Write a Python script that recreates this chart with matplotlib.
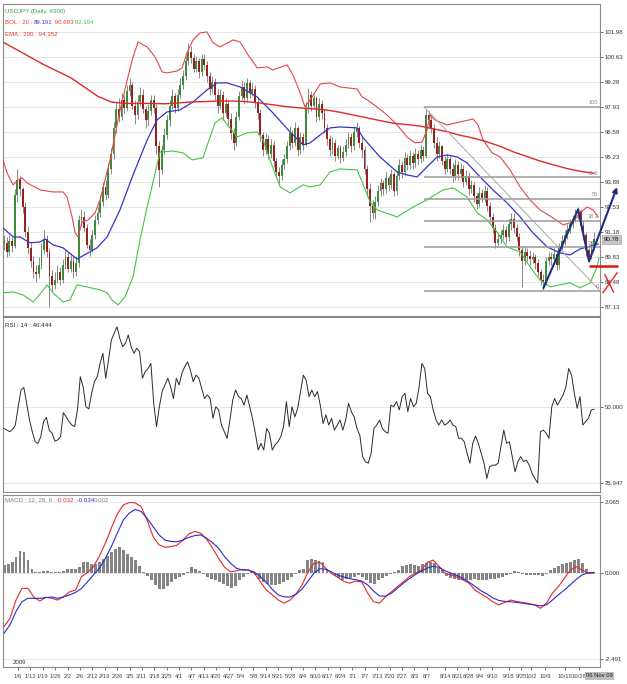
import numpy as np
import matplotlib.pyplot as plt
from matplotlib.transforms import blended_transform_factory

plt.rcParams['font.family'] = ['Liberation Sans', 'DejaVu Sans']

# ---------------- data (USDJPY daily) ----------------
close = [
    90.6, 90.1, 90.7, 90.4, 93.2, 94.0, 93.5, 92.5, 91.2, 90.3,
    89.6, 89.0, 88.9, 89.4, 90.2, 90.8, 90.1, 88.8, 88.3, 88.6,
    89.0, 88.6, 89.4, 89.8, 89.2, 89.6, 89.0, 89.5, 91.8, 92.0,
    91.4, 90.5, 90.2, 91.0, 91.8, 92.2, 92.8, 93.6, 93.2, 94.6,
    95.4, 96.8, 97.8, 97.4, 98.3, 97.9, 98.8, 99.1, 98.0, 97.5,
    98.2, 98.6, 97.8, 97.2, 97.7, 98.3, 97.9, 95.8, 94.5, 95.6,
    96.4, 97.2, 98.0, 98.5, 97.9, 98.6, 99.1, 99.6, 100.4, 100.9,
    100.6, 100.0, 100.4, 99.8, 100.5, 100.2, 99.6, 98.9, 99.3, 98.6,
    98.0, 98.6, 97.6, 98.1, 97.3, 96.5, 96.0, 97.4, 98.5, 99.0,
    98.4, 99.2, 98.7, 98.9, 98.2, 97.6, 96.4, 95.6, 96.2, 95.4,
    95.9, 95.0, 94.4, 94.2, 94.8, 95.1, 95.8, 96.5, 96.0, 96.8,
    95.6, 96.3, 95.9, 97.9, 98.6, 98.0, 98.4, 97.4, 98.1, 97.6,
    96.8, 96.2, 95.6, 96.0, 95.3, 95.7, 95.2, 95.5, 95.9, 96.3,
    95.8, 96.6, 96.8, 96.0, 95.6, 94.6, 93.5, 92.6, 92.2, 92.8,
    93.4, 93.8, 93.5, 94.1, 93.7, 94.3, 93.4, 94.2, 94.8, 94.4,
    95.2, 94.8, 95.3, 94.9, 95.4, 95.1, 95.6, 95.3, 97.5, 97.2,
    96.8, 96.0, 95.4, 95.8, 95.0, 94.6, 95.1, 94.6, 94.2, 94.8,
    94.3, 94.6, 93.9, 94.2, 93.5, 93.7, 93.1, 92.7, 93.3, 93.0,
    93.4, 92.6, 92.0, 91.4, 90.6, 90.8, 91.0, 91.3, 90.9, 91.6,
    91.9, 91.4, 90.9, 90.2, 89.6, 90.1, 89.9, 89.7, 89.8, 89.5,
    89.0, 88.6, 88.5, 89.6, 89.8, 89.7, 90.0, 89.4, 90.4, 90.7,
    91.0, 91.3, 91.6, 91.9, 92.2, 92.3, 91.5, 91.0, 90.2, 89.8,
    90.4, 90.78,
]
high = [
    91.0, 90.9, 91.0, 90.9, 93.5, 94.6, 94.2, 93.6, 92.8, 91.5,
    90.6, 89.9, 89.4, 89.8, 90.6, 91.3, 91.0, 90.3, 89.1, 89.0,
    89.4, 89.3, 89.7, 90.2, 90.1, 90.0, 89.9, 89.9, 92.1, 92.4,
    92.3, 91.6, 90.8, 91.3, 92.1, 92.5, 93.2, 93.9, 94.0, 94.9,
    95.7, 97.1, 98.2, 98.4, 98.7, 98.6, 99.1, 99.5, 99.3, 98.3,
    98.6, 99.0, 98.9, 98.0, 98.1, 98.6, 98.6, 98.1, 96.1, 95.9,
    96.8, 97.5, 98.3, 98.9, 98.7, 98.9, 99.5, 99.9, 100.7, 101.4,
    101.2, 100.8, 100.7, 100.6, 100.8, 100.8, 100.4, 99.8, 99.6, 99.5,
    98.9, 98.9, 98.8, 98.4, 98.3, 97.6, 96.8, 97.7, 98.8, 99.4,
    99.3, 99.5, 99.4, 99.2, 99.1, 98.4, 97.8, 96.6, 96.5, 96.4,
    96.2, 96.1, 95.2, 94.7, 95.1, 95.4, 96.1, 96.9, 96.7, 97.1,
    96.9, 96.6, 96.5, 98.2, 98.96, 98.8, 98.6, 98.5, 98.4, 98.3,
    97.8, 97.0, 96.4, 96.3, 96.2, 95.9, 95.9, 95.8, 96.2, 96.6,
    96.5, 96.9, 97.1, 96.9, 96.3, 95.8, 94.8, 93.8, 92.9, 93.1,
    93.7, 94.1, 94.0, 94.4, 94.2, 94.6, 94.4, 94.5, 95.1, 95.0,
    95.5, 95.4, 95.6, 95.5, 95.7, 95.6, 95.9, 95.8, 97.8, 97.7,
    97.5, 97.0, 96.3, 96.1, 95.9, 95.3, 95.4, 95.3, 94.9, 95.1,
    95.0, 94.9, 94.8, 94.5, 94.4, 94.0, 93.9, 93.3, 93.6, 93.5,
    93.7, 93.6, 92.8, 92.2, 91.6, 91.2, 91.3, 91.6, 91.5, 91.9,
    92.2, 92.2, 91.6, 91.1, 90.4, 90.4, 90.3, 90.2, 90.1, 90.0,
    89.7, 89.2, 88.9, 89.8, 90.1, 90.1, 90.3, 90.2, 90.6, 91.0,
    91.3, 91.6, 91.9, 92.1, 92.4, 92.5, 92.4, 91.8, 91.2, 90.4,
    90.7, 91.2,
]
low = [
    90.2, 89.8, 89.9, 90.1, 90.3, 92.8, 93.1, 92.2, 90.9, 90.0,
    89.3, 88.7, 88.5, 88.7, 89.2, 90.0, 89.8, 87.1, 88.0, 88.1,
    88.4, 88.3, 88.4, 89.2, 89.0, 89.0, 88.7, 88.8, 89.3, 91.5,
    91.2, 90.3, 89.9, 90.1, 90.8, 91.6, 92.0, 92.6, 92.9, 93.0,
    94.3, 95.1, 96.5, 97.1, 97.2, 97.6, 97.7, 98.5, 97.8, 97.0,
    97.3, 98.0, 97.6, 96.8, 96.9, 97.5, 97.6, 95.4, 93.6, 94.3,
    95.4, 96.2, 96.9, 97.8, 97.6, 97.7, 98.4, 98.9, 99.4, 100.2,
    100.3, 99.8, 99.8, 99.5, 99.6, 99.9, 99.3, 98.6, 98.7, 98.3,
    97.6, 97.8, 97.2, 97.4, 96.9, 96.2, 95.6, 95.8, 97.2, 98.3,
    98.1, 98.2, 98.4, 98.5, 97.9, 97.3, 96.1, 95.3, 95.4, 95.1,
    95.2, 94.7, 94.1, 93.8, 94.0, 94.6, 94.9, 95.6, 95.7, 95.8,
    95.3, 95.4, 95.6, 95.8, 97.6, 97.7, 97.8, 97.1, 97.2, 97.3,
    96.5, 95.9, 95.3, 95.4, 95.0, 95.1, 94.9, 95.0, 95.3, 95.7,
    95.5, 95.6, 96.3, 95.7, 95.2, 94.3, 93.1, 91.7, 91.9, 91.9,
    92.6, 93.1, 93.2, 93.3, 93.4, 93.5, 93.1, 93.2, 94.0, 94.1,
    94.2, 94.5, 94.6, 94.6, 94.7, 94.8, 94.9, 95.0, 95.2, 96.8,
    96.5, 95.7, 95.0, 95.2, 94.8, 94.3, 94.4, 94.3, 93.9, 94.0,
    94.0, 94.1, 93.6, 93.7, 93.2, 93.3, 92.8, 92.4, 92.5, 92.8,
    92.8, 92.3, 91.7, 91.1, 90.3, 90.4, 90.6, 90.8, 90.6, 90.7,
    91.3, 91.1, 90.7, 89.9, 88.2, 89.4, 89.6, 89.4, 89.5, 89.2,
    88.8, 88.3, 88.0, 88.3, 89.4, 89.4, 89.5, 89.1, 89.2, 90.2,
    90.5, 90.8, 91.1, 91.4, 91.7, 91.9, 91.3, 90.8, 89.9, 89.6,
    89.7, 90.2,
]

# Bollinger(20) readings: bar number and value
upper_bars = [-0.75, 1.12, 3.37, 5.24, 6.74, 8.61, 13.48, 18.35, 22.1, 23.6,
              25.47, 26.6, 27.72, 29.2, 31.5, 34.1, 35.96, 39.7, 43.45, 46.4,
              48.3, 50.2, 53.6, 56.55, 59.2, 61.05, 64.8, 66.7, 68.5, 70.8,
              73.4, 76.0, 78.3, 80.9, 85.8, 88.4, 91.4, 94.8, 98.5, 100.7,
              106.0, 108.2, 110.9, 112.7, 115.4, 118.4, 122.1, 125.8, 132.2, 134.1,
              136.0, 139.7, 143.4, 147.2, 150.9, 153.9, 156.6, 158.4, 159.6, 161.4,
              165.9, 170.8, 175.7, 177.5, 179.4, 182.8, 185.8, 189.5, 193.3, 197.0,
              200.7, 205.6, 209.4, 213.1, 215.7, 218.4, 220.6, 222.5]
upper_vals = [95.23, 94.37, 93.72, 93.99, 94.1, 93.83, 93.45, 93.34, 93.34, 93.07,
              91.99, 91.13, 90.91, 91.72, 91.83, 92.21, 92.91, 95.07, 97.77, 99.55,
              100.63, 101.44, 101.17, 100.63, 99.82, 99.77, 99.87, 100.04, 100.85, 101.55,
              101.93, 101.98, 101.39, 101.17, 101.55, 101.44, 100.74, 100.04, 100.09, 99.93,
              100.2, 99.66, 98.69, 97.93, 98.47, 99.17, 99.23, 99.01, 98.9, 98.47,
              98.31, 97.93, 97.5, 96.96, 96.31, 95.99, 96.04, 96.69, 97.5, 97.23,
              96.96, 97.12, 97.28, 96.96, 96.15, 95.45, 95.23, 94.53, 93.61, 92.91,
              92.37, 91.94, 91.56, 91.72, 92.21, 92.53, 92.37, 91.99]
mid_bars = [-0.37, 3.37, 6.0, 9.74, 13.48, 15.36, 18.35, 22.1, 27.3, 31.5,
            34.8, 38.6, 43.4, 48.3, 53.6, 57.3, 61.0, 65.9, 70.8, 76.0,
            79.8, 83.5, 88.4, 94.8, 100.7, 107.1, 112.0, 114.6, 118.4, 122.1,
            125.8, 132.2, 134.5, 140.8, 147.2, 150.9, 154.7, 158.4, 162.2, 165.9,
            169.7, 173.4, 178.3, 183.1, 188.4, 193.3, 198.1, 203.4, 208.2, 212.0,
            215.7, 218.4, 222.5]
mid_vals = [91.4, 90.91, 90.91, 90.59, 90.64, 90.8, 90.48, 90.32, 89.72, 90.05,
            90.32, 90.91, 92.37, 94.26, 96.15, 97.23, 97.66, 97.77, 98.2, 98.85,
            99.23, 99.23, 99.01, 98.47, 97.61, 96.58, 95.88, 95.99, 96.42, 96.8,
            96.85, 96.8, 96.26, 95.23, 94.42, 94.26, 94.15, 94.69, 95.23, 95.34,
            95.23, 94.91, 94.15, 93.45, 92.75, 91.99, 91.13, 90.37, 90.05, 89.94,
            90.26, 90.37, 90.53]
lower_bars = [-0.37, 3.37, 7.1, 10.9, 14.2, 16.1, 18.35, 22.1, 24.7, 27.3,
              31.1, 35.96, 38.6, 40.4, 42.7, 45.3, 48.3, 50.9, 53.6, 55.8,
              58.4, 63.3, 67.0, 70.4, 74.5, 76.4, 79.0, 81.6, 84.6, 87.3,
              91.0, 94.8, 97.0, 99.6, 103.4, 107.1, 112.0, 114.6, 118.4, 122.1,
              125.8, 132.2, 134.1, 137.1, 139.7, 147.2, 153.2, 158.4, 164.4, 168.2,
              173.4, 177.2, 180.9, 184.6, 188.4, 193.3, 197.0, 200.7, 204.5, 208.2,
              212.0, 215.7, 219.5, 222.1, 222.8]
lower_vals = [87.89, 87.94, 87.78, 87.4, 87.94, 88.32, 87.89, 87.4, 87.51, 88.32,
              88.21, 88.05, 87.89, 87.51, 87.24, 87.67, 88.75, 90.75, 92.53, 93.88,
              95.5, 95.55, 95.45, 95.07, 95.18, 95.99, 97.07, 97.34, 96.8, 96.31,
              96.53, 96.58, 96.15, 95.07, 93.61, 93.29, 93.72, 93.61, 93.72, 94.42,
              94.58, 94.53, 93.88, 92.8, 92.37, 91.99, 92.53, 92.91, 93.45, 93.56,
              93.07, 92.21, 91.83, 91.18, 90.37, 90.1, 89.29, 88.59, 88.21, 88.32,
              88.43, 88.16, 88.43, 89.29, 89.78]
# EMA(200), read about every 5 bars
ema200 = [101.4, 101.0, 100.6, 100.2, 99.85, 99.5, 99.0, 98.5, 98.2, 98.12,
          98.12, 98.12, 98.1, 98.15, 98.2, 98.22, 98.25, 98.25, 98.22, 98.15,
          98.05, 97.95, 97.88, 97.83, 97.77, 97.65, 97.5, 97.35, 97.2, 97.05,
          96.98, 96.9, 96.75, 96.6, 96.4, 96.25, 96.05, 95.8, 95.5, 95.25,
          95.0, 94.8, 94.6, 94.45, 94.35]

rsi14 = [43.2, 42.7, 42.2, 42.9, 44.3, 50.1, 55.4, 56.2, 51.2, 45.9,
         42.2, 39.0, 38.5, 40.6, 45.4, 46.7, 42.7, 41.7, 39.2, 39.6,
         40.6, 48.2, 46.9, 45.4, 44.3, 43.8, 49.1, 59.6, 56.4, 50.1,
         49.4, 54.3, 58.0, 59.6, 63.8, 67.0, 59.1, 64.9, 71.2, 73.3,
         75.4, 71.7, 69.1, 70.2, 72.8, 69.1, 67.0, 68.6, 67.5, 59.1,
         61.2, 62.2, 63.8, 51.2, 43.8, 50.1, 54.9, 57.0, 59.1, 56.4,
         52.7, 59.1, 57.0, 60.7, 62.8, 64.3, 61.7, 58.0, 60.1, 59.1,
         55.9, 52.7, 53.8, 52.7, 46.4, 50.1, 49.1, 44.3, 42.2, 40.1,
         45.9, 52.2, 55.4, 53.3, 52.7, 50.6, 53.8, 50.1, 46.4, 41.7,
         36.4, 38.5, 36.4, 43.2, 41.7, 36.4, 38.0, 39.0, 40.6, 43.8,
         51.7, 43.8, 50.1, 46.9, 49.6, 54.9, 60.1, 58.5, 53.3, 55.4,
         53.3, 54.9, 50.6, 44.8, 47.5, 44.3, 46.4, 42.7, 44.3, 45.9,
         42.7, 45.9, 51.2, 48.5, 46.9, 43.2, 41.1, 34.3, 32.7, 32.2,
         35.3, 43.2, 44.3, 45.9, 43.2, 42.2, 41.7, 50.6, 50.1, 51.7,
         49.1, 53.3, 54.3, 48.5, 52.7, 50.1, 51.2, 56.4, 63.8, 62.2,
         54.3, 53.3, 49.1, 45.9, 44.3, 45.9, 44.3, 44.8, 45.9, 44.3,
         43.8, 40.1, 40.1, 39.0, 35.3, 32.2, 38.5, 40.8, 38.5, 35.3,
         32.2, 27.4, 31.1, 31.6, 31.6, 32.2, 37.5, 42.7, 38.5, 39.0,
         34.3, 29.5, 32.7, 34.3, 32.7, 33.2, 31.6, 29.0, 27.4, 26.0,
         42.2, 42.7, 41.7, 40.1, 50.1, 52.7, 50.6, 52.2, 53.8, 56.4,
         62.2, 60.1, 54.3, 49.6, 53.3, 44.3, 45.4, 46.4, 49.1, 49.3]

macd_line = [-1.55, -1.31, -0.78, -0.44, -0.44, -0.70, -0.81, -0.70, -0.73, -0.78,
             -0.68, -0.54, -0.49, -0.10, 0.02, 0.19, 0.50, 0.87, 1.31, 1.72,
             1.98, 2.05, 2.04, 1.93, 1.54, 1.06, 0.82, 0.75, 0.77, 0.81,
             0.96, 1.14, 1.21, 1.16, 0.98, 0.72, 0.43, 0.17, 0.04, 0.07,
             0.11, 0.09, 0.00, -0.25, -0.49, -0.63, -0.78, -0.87, -0.78, -0.60,
             -0.34, 0.04, 0.29, 0.31, 0.14, -0.02, -0.12, -0.24, -0.29, -0.23,
             -0.25, -0.58, -0.83, -0.87, -0.68, -0.54, -0.39, -0.25, -0.10, 0.00,
             0.09, 0.31, 0.38, 0.19, 0.00, -0.05, -0.12, -0.20, -0.29, -0.49,
             -0.60, -0.70, -0.83, -0.92, -0.85, -0.78, -0.82, -0.85, -0.88, -0.92,
             -1.02, -0.87, -0.58, -0.39, -0.15, 0.09, 0.19, 0.09, 0.00, 0.00]
macd_signal = [-1.74, -1.50, -1.11, -0.83, -0.73, -0.73, -0.73, -0.71, -0.69, -0.73,
               -0.69, -0.63, -0.56, -0.44, -0.25, -0.05, 0.14, 0.43, 0.77, 1.16,
               1.54, 1.74, 1.85, 1.79, 1.59, 1.35, 1.11, 0.96, 0.92, 0.91,
               0.96, 1.04, 1.09, 1.11, 1.01, 0.88, 0.72, 0.48, 0.29, 0.14,
               0.09, 0.09, 0.03, -0.10, -0.27, -0.47, -0.63, -0.69, -0.69, -0.61,
               -0.46, -0.23, 0.00, 0.13, 0.11, 0.03, -0.06, -0.11, -0.16, -0.19,
               -0.23, -0.34, -0.52, -0.66, -0.67, -0.58, -0.44, -0.29, -0.16, -0.04,
               0.06, 0.15, 0.20, 0.17, 0.07, 0.00, -0.07, -0.15, -0.26, -0.38,
               -0.51, -0.60, -0.72, -0.79, -0.82, -0.83, -0.85, -0.87, -0.90, -0.92,
               -0.95, -0.92, -0.78, -0.63, -0.49, -0.34, -0.18, -0.05, 0.01, 0.02]
macd_hist = [0.25, 0.27, 0.32, 0.46, 0.64, 0.61, 0.37, 0.13, 0.03, 0.03,
             0.06, 0.07, 0.04, 0.02, 0.02, 0.06, 0.12, 0.13, 0.12, 0.17,
             0.33, 0.32, 0.27, 0.27, 0.32, 0.42, 0.51, 0.61, 0.71, 0.75,
             0.66, 0.56, 0.48, 0.37, 0.22, 0.03, -0.09, -0.19, -0.34, -0.46,
             -0.45, -0.36, -0.26, -0.16, -0.10, -0.04, 0.03, 0.17, 0.13, 0.06,
             -0.02, -0.10, -0.16, -0.21, -0.26, -0.31, -0.36, -0.44, -0.36, -0.21,
             -0.10, -0.02, 0.03, -0.04, -0.16, -0.26, -0.31, -0.33, -0.34, -0.31,
             -0.26, -0.21, -0.12, -0.02, 0.08, 0.13, 0.37, 0.42, 0.39, 0.35,
             0.32, 0.13, 0.00, -0.07, -0.14, -0.19, -0.17, -0.14, -0.10, -0.04,
             -0.12, -0.21, -0.29, -0.31, -0.21, -0.14, -0.07, -0.02, 0.03, 0.08,
             0.22, 0.25, 0.27, 0.25, 0.22, 0.27, 0.29, 0.32, 0.29, 0.15,
             0.08, -0.07, -0.14, -0.16, -0.19, -0.21, -0.19, -0.19, -0.18, -0.19,
             -0.21, -0.19, -0.18, -0.16, -0.14, -0.10, -0.04, -0.02, 0.05, 0.03,
             -0.02, -0.04, -0.04, -0.04, -0.04, -0.07, -0.02, 0.10, 0.15, 0.22,
             0.27, 0.30, 0.32, 0.37, 0.40, 0.29, 0.13, 0.03, 0.00]

price_ticks = [101.98, 100.63, 99.28, 97.93, 96.58, 95.23, 93.88, 92.53, 91.18, 89.83, 88.48, 87.13]
rsi_ticks = [50.0, 25.947]
macd_ticks = [2.065, 0.0, -2.491]

date_labels = ['1/6', '1/12', '1/19', '1/26', '2/2', '2/6', '2/12', '2/19', '2/26', '3/5',
               '3/11', '3/18', '3/25', '4/1', '4/7', '4/13', '4/20', '4/27', '5/4', '5/8',
               '5/14', '5/21', '5/28', '6/4', '6/10', '6/17', '6/24', '7/1', '7/7', '7/13',
               '7/20', '7/27', '8/3', '8/7', '8/14', '8/21', '8/28', '9/4', '9/10', '9/18',
               '9/25', '10/2', '10/9', '10/19', '10/26']
date_bars = [5.2, 9.8, 14.5, 19.1, 23.8, 28.4, 33.0, 37.7, 42.3, 47.0,
             51.6, 56.2, 60.9, 65.5, 70.2, 74.8, 79.4, 84.1, 88.7, 93.4,
             98.0, 102.6, 107.3, 111.9, 116.6, 121.2, 125.8, 130.5, 135.1, 139.8,
             144.4, 149.0, 153.7, 158.3, 165.2, 169.7, 173.8, 178.3, 182.8, 189.1,
             193.6, 197.4, 202.6, 210.1, 215.4]
last_date = '06 Nov 09'
last_price = 90.78

# Fibonacci retracement drawn from the 8/7 high to the 10/7 low
fib_high, fib_low = 97.93, 88.0
fib_from_bar = 157.3
fib_ratios = [1.0, 0.618, 0.5, 0.382, 0.236, 0.0]
fib_names = ['100', '61.8', '50', '38.2', '23.6', '0']

# hand drawn wave projection
wave_bars = [202.0, 215.0, 219.1, 229.6]
wave_prices = [88.15, 92.4, 89.6, 93.6]
support_price = 89.35
support_bars = (219.0, 230.0)
cross_bar, cross_price = 227.0, 88.45

# ---------------- figure ----------------
W, H = 627, 684
fig = plt.figure(figsize=(W / 100, H / 100), dpi=100)
fig.patch.set_facecolor('white')

FS = 4.4
XR = 223.2


def panel(y0, y1, share=None):
    return fig.add_axes([3 / W, 1 - y1 / H, 597 / W, (y1 - y0) / H], sharex=share)


ax = panel(4, 316)
ax_rsi = panel(317, 492, ax)
ax_macd = panel(495, 667, ax)

for a in (ax, ax_rsi, ax_macd):
    for s in a.spines.values():
        s.set_color('#8a8a8a')
        s.set_linewidth(0.8)
    a.yaxis.tick_right()
    a.tick_params(axis='y', labelsize=FS, colors='#333333', length=2, width=0.5, pad=1.5)
    a.set_facecolor('white')

n = len(close)
x = np.arange(n)
c = np.array(close)
o = np.r_[c[0], c[:-1]]
hi = np.array(high)
lo = np.array(low)


def span(vals):
    return np.linspace(0, n - 1, len(vals))


# ---- price panel ----
ax.set_xlim(-0.4, XR)
ax.set_ylim(86.64, 103.49)
ax.set_yticks(price_ticks, [f'{v:.2f}' for v in price_ticks])
for v in price_ticks:
    ax.axhline(v, color='#e2e2e2', lw=0.6, zorder=0)

up = c >= o
body_lo = np.minimum(o, c)
body_h = np.maximum(np.abs(c - o), 0.07)
ax.vlines(x, lo, hi, color='#6a6a6a', lw=0.55, zorder=2)
ax.bar(x[up], body_h[up], bottom=body_lo[up], width=0.7, color='#3d8c3d', lw=0, zorder=3)
ax.bar(x[~up], body_h[~up], bottom=body_lo[~up], width=0.7, color='#9a2020', lw=0, zorder=3)

ax.plot(upper_bars, upper_vals, color='#e64646', lw=0.8, zorder=4, clip_on=True)
ax.plot(mid_bars, mid_vals, color='#3535c8', lw=0.9, zorder=4)
ax.plot(lower_bars, lower_vals, color='#45c545', lw=0.8, zorder=4)
ax.plot(span(ema200), ema200, color='#dd2a2a', lw=1.0, zorder=4)

# fibonacci
levels = [fib_low + r * (fib_high - fib_low) for r in fib_ratios]
ax.hlines(levels, fib_from_bar, XR, color='#9a9a9a', lw=1.1, zorder=5)
ax.plot([fib_from_bar, XR], [fib_high, fib_low], color='#a9a9a9', lw=0.7, zorder=5)
for lv, name in zip(levels, fib_names):
    ax.text(XR - 0.6, lv + 0.08, name, ha='right', va='bottom', fontsize=FS - 0.4,
            color='#8a8a8a', zorder=6)

# projection
navy = '#1e2c82'
ax.plot(wave_bars[:3], wave_prices[:3], color=navy, lw=1.5, zorder=8, clip_on=False,
        solid_capstyle='round')
ax.annotate('', xy=(wave_bars[3], wave_prices[3]), xytext=(wave_bars[2], wave_prices[2]),
            arrowprops=dict(arrowstyle='-|>', color=navy, lw=1.5, mutation_scale=7,
                            shrinkA=0, shrinkB=0),
            annotation_clip=False, zorder=8)
ax.hlines(support_price, *support_bars, color='#e01515', lw=1.8, zorder=8, clip_on=False)
ax.plot([cross_bar - 2.7, cross_bar + 2.6], [cross_price - 0.55, cross_price + 0.52],
        color='#e02525', lw=1.0, zorder=9, clip_on=False)
ax.plot([cross_bar - 2.0, cross_bar + 1.3], [cross_price + 0.42, cross_price - 0.52],
        color='#e02525', lw=1.0, zorder=9, clip_on=False)

tr = blended_transform_factory(ax.transAxes, ax.transData)
ax.text(1.006, last_price, f'{last_price:.2f}', transform=tr, ha='left', va='center',
        fontsize=FS, color='#111111', zorder=10, clip_on=False,
        bbox=dict(boxstyle='square,pad=0.3', fc='#c6c6c6', ec='#9c9c9c', lw=0.4))


def label_row(a, yfrac, parts):
    t = a.text(0.003, yfrac, parts[0][0], color=parts[0][1], transform=a.transAxes,
               fontsize=FS, ha='left', va='center', zorder=12)
    for s, col in parts[1:]:
        t = a.annotate(s, xy=(1, 0), xycoords=t, color=col, fontsize=FS,
                       ha='left', va='bottom', zorder=12)


label_row(ax, 1 - 8 / 312, [('USDJPY (Daily, #300)', '#3aa83a')])
label_row(ax, 1 - 19 / 312, [('BOL : 20 : ', '#e03a3a'), ('89.191', '#3535c8'),
                             (' 90.693', '#e03a3a'), (' 92.194', '#3fbf3f')])
label_row(ax, 1 - 31 / 312, [('EMA : 200 : 94.352', '#e03a3a')])

# ---- RSI panel ----
ax_rsi.set_ylim(23.1, 78.5)
ax_rsi.set_yticks(rsi_ticks, [f'{v:.3f}' for v in rsi_ticks])
for v in rsi_ticks:
    ax_rsi.axhline(v, color='#e2e2e2', lw=0.6, zorder=0)
ax_rsi.plot(span(rsi14), rsi14, color='#2b2b2b', lw=0.7, zorder=3)
label_row(ax_rsi, 1 - 8 / 175, [('RSI : 14 : 46.444', '#222222')])

# ---- MACD panel ----
ax_macd.set_ylim(-2.723, 2.268)
ax_macd.set_yticks(macd_ticks, [f'{v:.3f}' for v in macd_ticks])
for v in macd_ticks:
    ax_macd.axhline(v, color='#e6e6e6', lw=0.6, zorder=0)
hx = span(macd_hist)
ax_macd.bar(hx, macd_hist, width=1.1, color='#858585', lw=0, zorder=2)
ax_macd.plot(span(macd_line), macd_line, color='#e62828', lw=0.8, zorder=4)
ax_macd.plot(span(macd_signal), macd_signal, color='#2a2ad0', lw=0.8, zorder=4)
label_row(ax_macd, 1 - 5 / 172, [('MACD : 12, 26, 9 : ', '#808080'), ('-0.032', '#e62828'),
                                 (' -0.034', '#2a2ad0'), ('0.002', '#808080')])
ax_macd.text(10 / 597, 4 / 172, '2009', transform=ax_macd.transAxes, fontsize=FS,
             color='#333333', ha='left', va='center')

ax_macd.set_xticks(date_bars, date_labels)
ax_macd.tick_params(axis='x', labelsize=FS - 0.2, colors='#444444', length=2.5,
                    width=0.5, pad=2.5)
for a in (ax, ax_rsi):
    a.tick_params(axis='x', bottom=False, labelbottom=False)
trx = blended_transform_factory(ax_macd.transData, ax_macd.transAxes)
ax_macd.text(222.9, -0.052, last_date, transform=trx, ha='center', va='center',
             fontsize=FS - 0.2, color='#222222', clip_on=False, zorder=10,
             bbox=dict(boxstyle='square,pad=0.2', fc='#bdbdbd', ec='none'))

fig.savefig('out.png', dpi=100, facecolor='white')
